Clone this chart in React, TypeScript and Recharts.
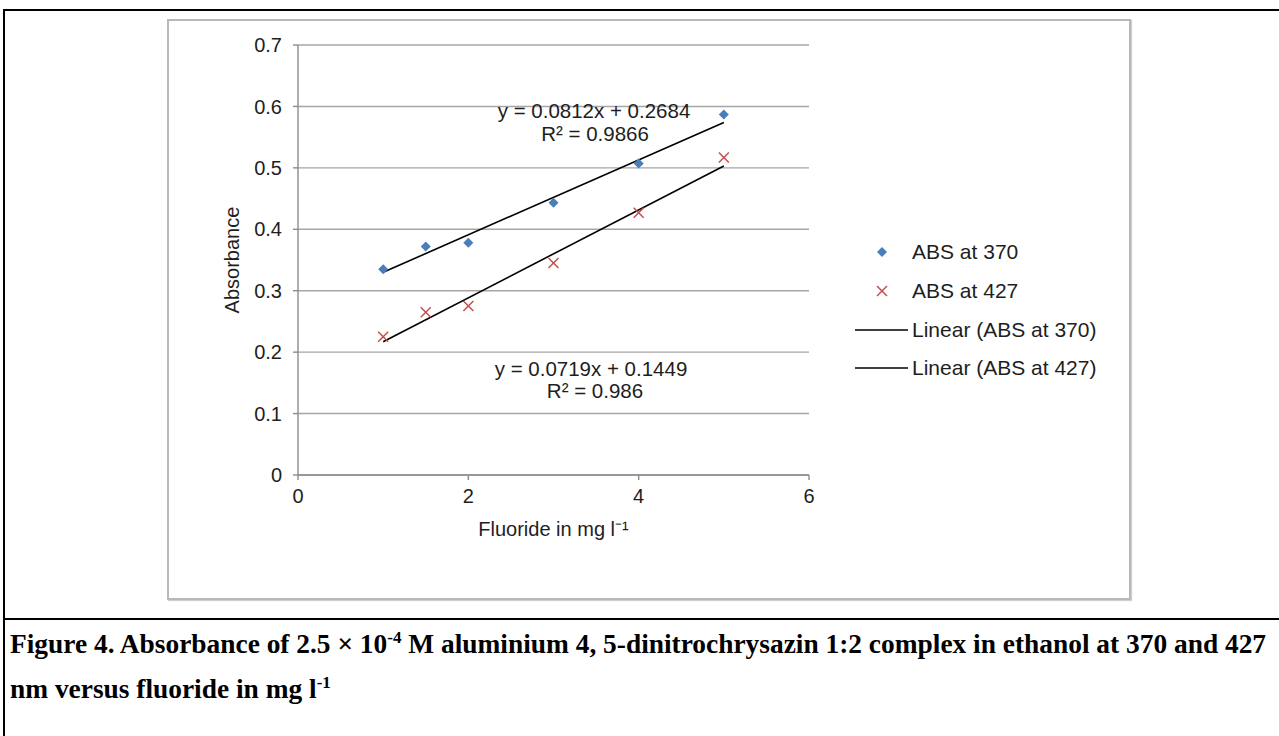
import React from 'react';
import { ComposedChart, Scatter, XAxis, YAxis, CartesianGrid } from 'recharts';

const FLUORIDE = [1, 1.5, 2, 3, 4, 5];
const ABS_370 = [0.335, 0.372, 0.378, 0.443, 0.507, 0.587];
const ABS_427 = [0.225, 0.265, 0.275, 0.345, 0.427, 0.517];

// trend line end points as drawn in the figure (x = 1 and x = 5)
const TREND_X = [1, 5];
const TREND_370 = [0.33, 0.574];
const TREND_427 = [0.217, 0.503];

const X_TICKS = [0, 2, 4, 6];
const Y_TICKS = [0, 0.1, 0.2, 0.3, 0.4, 0.5, 0.6, 0.7];

const BLUE = '#4a7ebb';
const RED = '#c0504d';
const INK = '#1e1e1e';
const FONT = '"Liberation Sans", Arial, sans-serif';

const data370 = FLUORIDE.map((x, i) => ({ x, y: ABS_370[i] }));
const data427 = FLUORIDE.map((x, i) => ({ x, y: ABS_427[i] }));
const trend370 = TREND_X.map((x, i) => ({ x, y: TREND_370[i] }));
const trend427 = TREND_X.map((x, i) => ({ x, y: TREND_427[i] }));

function Diamond({ cx, cy }: any) {
  const s = 5;
  return <polygon points={`${cx},${cy - s} ${cx + s},${cy} ${cx},${cy + s} ${cx - s},${cy}`} fill={BLUE} />;
}

function XMark({ cx, cy }: any) {
  const s = 5;
  return (
    <g stroke={RED} strokeWidth={1.5}>
      <line x1={cx - s} y1={cy - s} x2={cx + s} y2={cy + s} />
      <line x1={cx - s} y1={cy + s} x2={cx + s} y2={cy - s} />
    </g>
  );
}

const NoDot = () => <g />;

// legend rows: marker column 855..908, text from 912
function LegendBox() {
  const rowStyle: React.CSSProperties = { display: 'flex', alignItems: 'center', height: 38.7 };
  const text: React.CSSProperties = { fontFamily: FONT, fontSize: 21, color: INK, whiteSpace: 'nowrap', marginLeft: 4 };
  return (
    <div style={{ position: 'absolute', left: 855, top: 233 }}>
      <div style={rowStyle}>
        <svg width={53} height={14}>
          <Diamond cx={27} cy={7} />
        </svg>
        <span style={text}>ABS at 370</span>
      </div>
      <div style={rowStyle}>
        <svg width={53} height={14}>
          <XMark cx={27} cy={7} />
        </svg>
        <span style={text}>ABS at 427</span>
      </div>
      <div style={rowStyle}>
        <svg width={53} height={14}>
          <line x1={0} y1={7} x2={53} y2={7} stroke="#000" strokeWidth={1.6} />
        </svg>
        <span style={text}>Linear (ABS at 370)</span>
      </div>
      <div style={rowStyle}>
        <svg width={53} height={14}>
          <line x1={0} y1={7} x2={53} y2={7} stroke="#000" strokeWidth={1.6} />
        </svg>
        <span style={text}>Linear (ABS at 427)</span>
      </div>
    </div>
  );
}

const note = (left: number, top: number): React.CSSProperties => ({
  position: 'absolute',
  left,
  top,
  transform: 'translate(-50%, -50%)',
  fontFamily: FONT,
  fontSize: 20.5,
  color: INK,
  whiteSpace: 'nowrap',
});

export default function App() {
  return (
    <div style={{ position: 'absolute', left: 0, top: 0, width: 1279, height: 736, background: '#fff', overflow: 'hidden' }}>
      {/* table borders */}
      <div style={{ position: 'absolute', left: 3, top: 9, width: 1276, height: 2, background: '#000' }} />
      <div style={{ position: 'absolute', left: 3, top: 9, width: 2, height: 727, background: '#000' }} />
      <div style={{ position: 'absolute', left: 3, top: 618, width: 1276, height: 2, background: '#000' }} />

      {/* chart frame */}
      <div
        style={{
          position: 'absolute',
          left: 167,
          top: 19,
          width: 960,
          height: 577,
          border: '2px solid #b8b8b8',
          boxShadow: '1px 1px 1px #d0d0d0',
        }}
      />

      <div style={{ position: 'absolute', left: 167, top: 20 }}>
        <ComposedChart width={960} height={575} margin={{ top: 25, right: 318, bottom: 50, left: 0 }}>
          <CartesianGrid vertical={false} stroke="#a6a6a6" strokeWidth={1.4} />
          <XAxis
            type="number"
            dataKey="x"
            domain={[0, 6]}
            ticks={X_TICKS}
            height={70}
            stroke="#8c8c8c"
            strokeWidth={1.4}
            tickSize={5}
            tickMargin={9}
            tick={{ fontFamily: FONT, fontSize: 20, fill: INK }}
            label={{
              value: 'Fluoride in mg  l⁻¹',
              position: 'insideBottom',
              offset: 9,
              style: { fontFamily: FONT, fontSize: 20, fill: INK },
            }}
          />
          <YAxis
            type="number"
            dataKey="y"
            domain={[0, 0.7]}
            ticks={Y_TICKS}
            width={131}
            stroke="#8c8c8c"
            strokeWidth={1.4}
            tickSize={5}
            tickMargin={11}
            tickFormatter={(v: number) => String(Math.round(v * 10) / 10)}
            tick={{ fontFamily: FONT, fontSize: 20, fill: INK }}
            label={{
              value: 'Absorbance',
              angle: -90,
              position: 'insideLeft',
              offset: 65,
              style: { fontFamily: FONT, fontSize: 20, fill: INK, textAnchor: 'middle' },
            }}
          />
          <Scatter data={trend370} line={{ stroke: '#000', strokeWidth: 1.6 }} shape={NoDot} isAnimationActive={false} legendType="none" />
          <Scatter data={trend427} line={{ stroke: '#000', strokeWidth: 1.6 }} shape={NoDot} isAnimationActive={false} legendType="none" />
          <Scatter name="ABS at 370" data={data370} shape={Diamond} isAnimationActive={false} />
          <Scatter name="ABS at 427" data={data427} shape={XMark} isAnimationActive={false} />
        </ComposedChart>
      </div>

      <LegendBox />

      {/* trend line equations */}
      <div style={note(594, 111)}>y = 0.0812x + 0.2684</div>
      <div style={note(595, 134)}>R² = 0.9866</div>
      <div style={note(591, 369)}>y = 0.0719x + 0.1449</div>
      <div style={note(595, 391)}>R² = 0.986</div>

      {/* caption */}
      <div
        style={{
          position: 'absolute',
          left: 10,
          top: 622,
          width: 1265,
          fontFamily: '"Liberation Serif", "Times New Roman", serif',
          fontWeight: 'bold',
          fontSize: 27.4,
          lineHeight: '45px',
          color: '#000',
        }}
      >
        <div style={{ whiteSpace: 'nowrap' }}>
          Figure 4. Absorbance of 2.5 × 10<sup style={{ fontSize: 17, lineHeight: 0 }}>-4</sup> M aluminium 4, 5-dinitrochrysazin 1:2 complex in ethanol at 370 and 427
        </div>
        <div style={{ whiteSpace: 'nowrap' }}>
          nm versus fluoride in mg l<sup style={{ fontSize: 17, lineHeight: 0 }}>-1</sup>
        </div>
      </div>
    </div>
  );
}
